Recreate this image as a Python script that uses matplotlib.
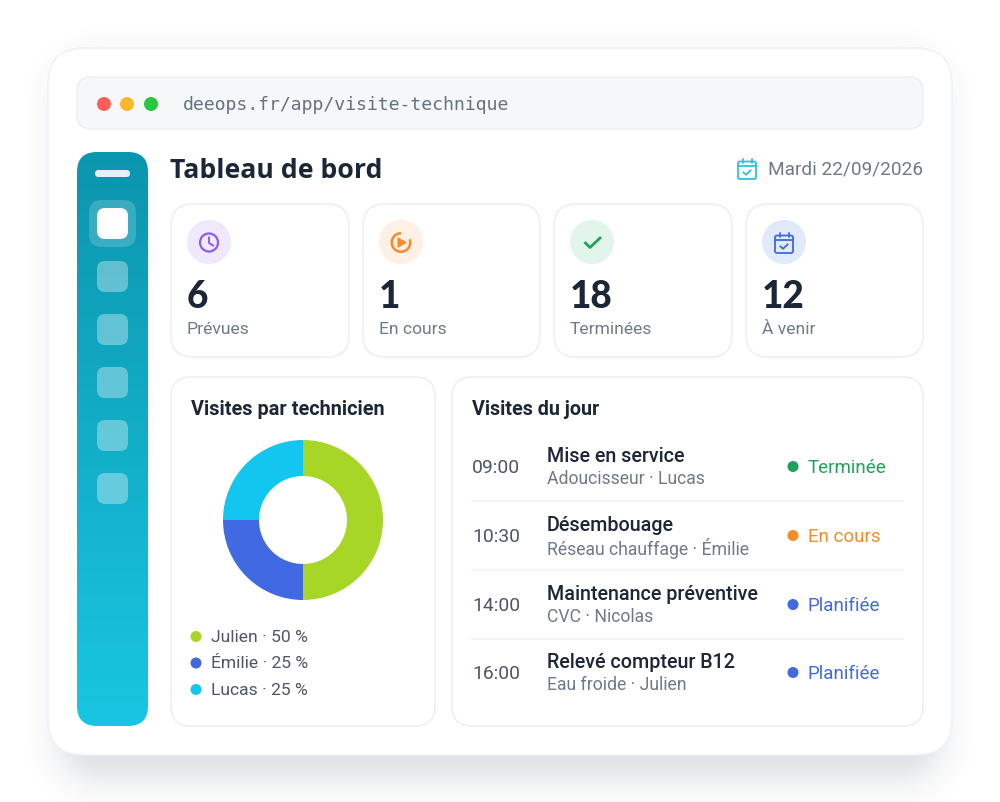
import numpy as np
import matplotlib
matplotlib.use('Agg')
import matplotlib.pyplot as plt
from matplotlib.patches import FancyBboxPatch, Circle, Arc, Polygon

url = 'deeops.fr/app/visite-technique'
page_title = 'Tableau de bord'
date_label = 'Mardi 22/09/2026'

stat_values = ['6', '1', '18', '12']
stat_labels = ['Prévues', 'En cours', 'Terminées', 'À venir']

donut_title = 'Visites par technicien'
tech_names = ['Julien', 'Émilie', 'Lucas']
tech_shares = [50, 25, 25]
tech_colors = ['#A8D626', '#4169E1', '#13C6F0']

list_title = 'Visites du jour'
visit_times = ['09:00', '10:30', '14:00', '16:00']
visit_names = ['Mise en service', 'Désembouage', 'Maintenance préventive', 'Relevé compteur B12']
visit_subs = ['Adoucisseur · Lucas', 'Réseau chauffage · Émilie', 'CVC · Nicolas', 'Eau froide · Julien']
visit_status = ['Terminée', 'En cours', 'Planifiée', 'Planifiée']
status_colors = {'Terminée': '#1FA35A', 'En cours': '#F68B27', 'Planifiée': '#4169E1'}

DARK = '#1B2636'
GREY = '#6F7A89'
BORDER = '#EAEFF5'


def box(ax, x0, y0, x1, y1, r, fc, ec='none', lw=0, alpha=None, z=2):
    p = FancyBboxPatch((x0 + r, y0 + r), x1 - x0 - 2 * r, y1 - y0 - 2 * r,
                       boxstyle='round,pad=%f,rounding_size=%f' % (r, r),
                       fc=fc, ec=ec, lw=lw, alpha=alpha, zorder=z)
    ax.add_patch(p)
    return p


def px(size):
    return size * 0.72


fig = plt.figure(figsize=(10, 8.03), dpi=100, facecolor='white')
ax = fig.add_axes([0, 0, 1, 1])
ax.axis('off')

# soft shadow behind the main card
xx, yy = np.meshgrid(np.arange(1000) + 0.5, np.arange(803) + 0.5)
qx = np.abs(xx - 500) - (432 - 36)
qy = np.abs(yy - 420) - (350 - 36)
dist = np.hypot(np.maximum(qx, 0), np.maximum(qy, 0)) + np.minimum(np.maximum(qx, qy), 0) - 36
shadow = np.zeros((803, 1000, 4))
shadow[..., :3] = matplotlib.colors.to_rgb('#1B3050')
shadow[..., 3] = 0.14 * np.exp(-(np.maximum(dist + 15, 0) / 32) ** 2)
ax.imshow(shadow, extent=[0, 1000, 803, 0], aspect='auto', zorder=1)
ax.set_xlim(0, 1000)
ax.set_ylim(802, -1)

box(ax, 48, 48, 952, 755, 36, 'white', ec='#EEF2F6', lw=1.1, z=2)

# browser bar
box(ax, 77, 77, 923, 129, 14, '#F5F7F9', ec='#EBEEF3', lw=1)
for x, c in zip([104, 127, 151], ['#FF5F57', '#FFB72C', '#28C840']):
    ax.add_patch(Circle((x, 104), 7, fc=c, ec='none', zorder=3))
ax.text(183, 104, url, family='DejaVu Sans Mono', fontsize=px(18.1), color='#657182', va='center', zorder=3)

# sidebar
grad = np.linspace(0, 1, 256).reshape(-1, 1)
cmap = matplotlib.colors.LinearSegmentedColormap.from_list('side', ['#0C95AE', '#19C6E1'])
im = ax.imshow(grad, extent=[77, 148, 726, 152], cmap=cmap, aspect='auto', zorder=2)
im.set_clip_path(box(ax, 77, 152, 148, 726, 20, 'none', z=2))
ax.set_xlim(0, 1000)
ax.set_ylim(802, -1)
box(ax, 95, 170, 130, 177, 3.5, '#DDF3F7', z=3)
box(ax, 89, 200, 136, 247, 13, 'white', alpha=0.18, z=3)
box(ax, 97, 208, 128, 239, 8, 'white', z=4)
for y in [261, 314, 367, 420, 473]:
    box(ax, 97, y, 128, y + 31, 8, 'white', alpha=0.35, z=3)

# header
ax.text(170, 170, page_title, family='Open Sans', weight='bold', fontsize=px(26.6), color=DARK, va='center', zorder=3)
ax.text(923, 168.5, date_label, family='Roboto', fontsize=px(19), color=GREY, va='center', ha='right', zorder=3)


def calendar(cx, cy, s, color):
    box(ax, cx - s, cy - s + 1.5, cx + s, cy + s + 1, 2, 'none', ec=color, lw=1.3, z=5)
    ax.plot([cx - s, cx + s], [cy - s + 6, cy - s + 6], color=color, lw=1.3, zorder=5)
    for dx in [-s * 0.5, s * 0.5]:
        ax.plot([cx + dx, cx + dx], [cy - s - 1, cy - s + 3], color=color, lw=1.3, zorder=5, solid_capstyle='round')
    ax.plot([cx - 3.5, cx - 1, cx + 3.5], [cy + 3.5, cy + 5.8, cy + 1.5], color=color, lw=1.3, zorder=5)


# stat cards
card_x = [(171, 349), (363, 540), (554, 732), (746, 923)]
icon_bg = ['#F0E8FD', '#FEF0E4', '#E2F5EA', '#E0EAFA']
icon_fg = ['#8B5CF6', '#F68B27', '#1FA35A', '#4169E1']
for i in range(4):
    x0, x1 = card_x[i]
    box(ax, x0, 204, x1, 357, 22, 'white', ec=BORDER, lw=1.1, z=2)
    cx = x0 + 38
    ax.add_patch(Circle((cx, 242), 22, fc=icon_bg[i], ec='none', zorder=3))
    ax.text(x0 + 16, 296, stat_values[i], family='Lato', weight='black', fontsize=px(37), color=DARK, va='center', zorder=3)
    ax.text(x0 + 16, 328.5, stat_labels[i], family='Roboto', fontsize=px(17.5), color=GREY, va='center', zorder=3)

# icons
c = icon_fg[0]
ax.add_patch(Circle((209, 242.5), 9, fc='none', ec=c, lw=1.6, zorder=5))
ax.plot([209, 209, 213], [237.5, 243, 245.5], color=c, lw=1.4, zorder=5)
c = icon_fg[1]
ax.add_patch(Arc((401, 242.5), 18.5, 18.5, theta1=-20, theta2=270, color=c, lw=1.8, zorder=5))
ax.add_patch(Polygon([(397.5, 237), (397.5, 248), (407, 242.5)], fc=c, ec='none', zorder=5))
c = icon_fg[2]
ax.plot([585.5, 590, 600], [243, 247.5, 238], color=c, lw=2, zorder=5)
calendar(784, 243, 9, icon_fg[3])
calendar(747, 169, 9, '#2CC2DE')

# donut panel
box(ax, 171, 377, 435, 726, 20, 'white', ec=BORDER, lw=1.1, z=2)
ax.text(191, 409, donut_title, family='Roboto', weight='bold', fontsize=px(19.9), color=DARK, va='center', zorder=3)
ax_pie = fig.add_axes([223 / 1000, 1 - 601 / 803, 160 / 1000, 160 / 803])
ax_pie.pie(tech_shares, colors=tech_colors, startangle=90, counterclock=False, radius=1,
           wedgeprops={'width': 0.45, 'linewidth': 0})
ax_pie.set_xlim(-1, 1)
ax_pie.set_ylim(-1, 1)
for name, share, color, y in zip(tech_names, tech_shares, tech_colors, [636.5, 663, 689.5]):
    ax.add_patch(Circle((196, y), 5.5, fc=color, ec='none', zorder=3))
    ax.text(211, y, '%s · %d %%' % (name, share), family='Roboto', fontsize=px(17.5), color='#4E5565', va='center', zorder=3)

# visits panel
box(ax, 452, 377, 923, 726, 20, 'white', ec=BORDER, lw=1.1, z=2)
ax.text(472, 409, list_title, family='Roboto', weight='bold', fontsize=px(19.8), color=DARK, va='center', zorder=3)
row_y = [467, 536, 605, 673]
for i, y in enumerate(row_y):
    ax.text(472, y, visit_times[i], family='Roboto', fontsize=px(19.3), color='#4E5565', va='center', zorder=3)
    ax.text(547, y - 11, visit_names[i], family='Roboto', weight='medium', fontsize=px(19.75), color=DARK, va='center', zorder=3)
    ax.text(547, y + 11.5, visit_subs[i], family='Roboto', fontsize=px(17.6), color=GREY, va='center', zorder=3)
    col = status_colors[visit_status[i]]
    ax.add_patch(Circle((793, y - 0.5), 5.5, fc=col, ec='none', zorder=3))
    ax.text(807.5, y, visit_status[i], family='Roboto', fontsize=px(18.8), color=col, va='center', zorder=3)
    if i < 3:
        ax.plot([472, 903], [y + 34, y + 34], color='#F0F2F5', lw=1.1, zorder=3)

plt.savefig('out.png', dpi=100)
